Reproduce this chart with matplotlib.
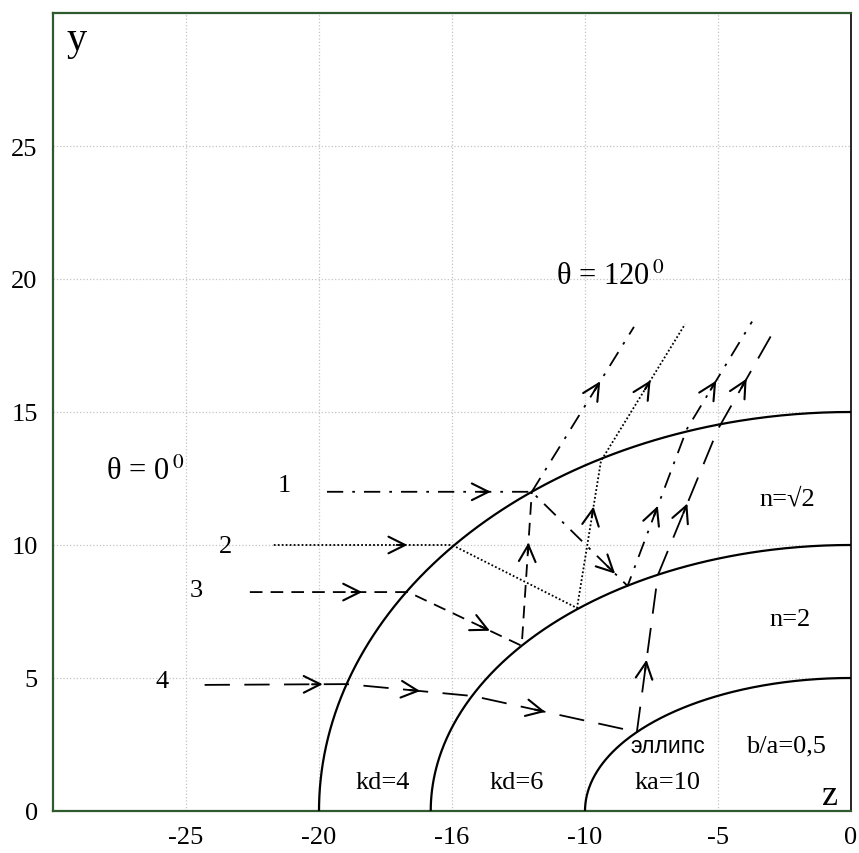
"""
Лучи в слоистом эллипсе: kd=4, kd=6, ka=10
"""
import numpy as np
import matplotlib
matplotlib.use("Agg")
import matplotlib.pyplot as plt

# ==========================
# данные
# ==========================
# полуоси слоёв (a вдоль z, b вдоль y)
layer_a = [20, 15.8, 10]
layer_b = [15, 10, 5]

# вершины лучей (z, y)
ray1_z = [-19.7, -12.0, -8.4, -6.17, -3.72]
ray1_y = [12.0, 12.0, 8.46, 14.36, 18.4]
ray1r_z = [-12.0, -8.16]
ray1r_y = [12.0, 18.2]
ray2_z = [-21.7, -15.0, -10.3, -9.4, -6.24]
ray2_y = [10.0, 10.0, 7.63, 13.16, 18.3]
ray3_z = [-22.6, -16.65, -12.38, -12.0]
ray3_y = [8.23, 8.23, 6.21, 12.0]
ray4_z = [-24.3, -18.95, -14.2, -8.05, -7.26, -5.0, -2.93]
ray4_y = [4.74, 4.77, 4.32, 2.97, 8.87, 14.36, 18.0]

# положение стрелок на отрезках (доля длины, None = без стрелки)
ray1_arrows = [0.8, 0.87, 0.51, 0.45]
ray1r_arrows = [0.67]
ray2_arrows = [0.75, None, 0.69, 0.59]
ray3_arrows = [0.71, 0.72, 0.67]
ray4_arrows = [0.83, 0.58, 0.44, 0.46, 0.49, 0.52]

xtick_pos = [-25, -20, -15, -10, -5, 0]
xtick_lab = ["-25", "-20", "-16", "-10", "-5", "0"]
ytick_pos = [0, 5, 10, 15, 20, 25]

plt.rcParams["font.family"] = ["Liberation Serif", "DejaVu Serif"]
plt.rcParams["mathtext.fontset"] = "stix"

fig = plt.figure(figsize=(8.59, 8.54), dpi=100)
ax = fig.add_axes([0.0617, 0.0492, 0.9290, 0.9344])

# ==========================
# эллипсы
# ==========================
t = np.linspace(np.pi / 2, np.pi, 300)
for a, b in zip(layer_a, layer_b):
    ax.plot(a * np.cos(t), b * np.sin(t), color="black", lw=1.6, zorder=3)


def draw_ray(zs, ys, arrows, dashes):
    ax.plot(zs, ys, color="black", lw=1.3, dashes=dashes, zorder=4)
    for i, f in enumerate(arrows):
        if f is None:
            continue
        z0, y0, z1, y1 = zs[i], ys[i], zs[i + 1], ys[i + 1]
        zt, yt = z0 + f * (z1 - z0), y0 + f * (y1 - y0)
        L = np.hypot(z1 - z0, y1 - y0)
        zb, yb = zt - 0.4 * (z1 - z0) / L, yt - 0.4 * (y1 - y0) / L
        ax.annotate("", xy=(zt, yt), xytext=(zb, yb),
                    arrowprops=dict(arrowstyle="->", color="black", lw=1.5,
                                    mutation_scale=30, shrinkA=0, shrinkB=0),
                    zorder=5)


draw_ray(ray1_z, ray1_y, ray1_arrows, (9, 5, 1.5, 5))
draw_ray(ray1r_z, ray1r_y, ray1r_arrows, (9, 5, 1.5, 5))
draw_ray(ray2_z, ray2_y, ray2_arrows, (1, 1.2))
draw_ray(ray3_z, ray3_y, ray3_arrows, (7, 4.5))
draw_ray(ray4_z, ray4_y, ray4_arrows, (14, 8))

# ==========================
# подписи
# ==========================
ax.text(-29.5, 29.0, "y", fontsize=29, ha="left", va="center")
ax.text(-0.79, 0.6, "z", fontsize=26, ha="center", va="center")
ax.text(-11.1, 20.1, r"θ = 120$\,^{0}$", fontsize=22, ha="left", va="center")
ax.text(-28.0, 12.75, r"θ = 0$\,^{0}$", fontsize=22, ha="left", va="center")
for lab, zz, yy in zip(["1", "2", "3", "4"],
                       [-21.3, -23.5, -24.6, -25.9],
                       [12.25, 9.97, 8.3, 4.9]):
    ax.text(zz, yy, lab, fontsize=19, ha="center", va="center")
ax.text(-2.4, 11.75, "n=√2", fontsize=19, ha="center", va="center")
ax.text(-2.3, 7.2, "n=2", fontsize=19, ha="center", va="center")
ax.text(-17.6, 1.1, "kd=4", fontsize=19, ha="center", va="center")
ax.text(-12.55, 1.1, "kd=6", fontsize=19, ha="center", va="center")
ax.text(-6.88, 1.1, "ka=10", fontsize=19, ha="center", va="center")
ax.text(-6.9, 2.48, "эллипс", fontsize=16.5, ha="center", va="center",
        family=["Liberation Sans", "DejaVu Sans"])
ax.text(-2.45, 2.48, "b/a=0,5", fontsize=19, ha="center", va="center")

# ==========================
# оси
# ==========================
ax.set_xlim(-30, 0)
ax.set_ylim(0, 30)
ax.set_xticks(xtick_pos)
ax.set_xticklabels(xtick_lab)
ax.set_yticks(ytick_pos)
ax.tick_params(length=0, labelsize=19)
ax.tick_params(axis="y", pad=11)
ax.tick_params(axis="x", pad=11)
ax.grid(True, color="#c4c4c4", ls=":", lw=0.9)
ax.set_axisbelow(True)
for s in ["left", "bottom", "top"]:
    ax.spines[s].set_color("#2e5a2e")
    ax.spines[s].set_linewidth(1.6)
ax.spines["right"].set_color("black")
ax.spines["right"].set_linewidth(1.2)

plt.savefig("out.png", dpi=100)
plt.close()
